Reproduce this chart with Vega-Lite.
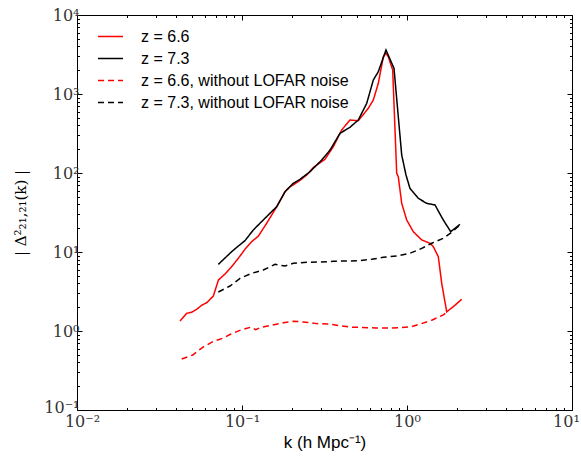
{
  "$schema": "https://vega.github.io/schema/vega-lite/v6.json",
  "width": 495,
  "height": 395,
  "autosize": {"type": "none"},
  "padding": {"left": 77, "top": 15, "right": 9, "bottom": 48},
  "background": "white",
  "config": {
    "view": {"stroke": "black", "strokeWidth": 1},
    "axis": {
      "grid": false,
      "domain": false,
      "tickColor": "black",
      "labelFont": "DejaVu Serif",
      "labelFontSize": 16,
      "labelColor": "#333333",
      "titleFont": "Liberation Sans",
      "titleFontWeight": "normal",
      "titleFontSize": 17,
      "titleColor": "black",
      "labelFlush": false,
      "labelOverlap": false
    }
  },
  "data": {
    "values": [
      {"s": "z = 6.6", "k": 0.0421, "d": 1.34},
      {"s": "z = 6.6", "k": 0.0462, "d": 1.675},
      {"s": "z = 6.6", "k": 0.0496, "d": 1.725},
      {"s": "z = 6.6", "k": 0.0531, "d": 1.88},
      {"s": "z = 6.6", "k": 0.0572, "d": 2.13},
      {"s": "z = 6.6", "k": 0.0611, "d": 2.28},
      {"s": "z = 6.6", "k": 0.067, "d": 2.77},
      {"s": "z = 6.6", "k": 0.072, "d": 4.42},
      {"s": "z = 6.6", "k": 0.0789, "d": 5.27},
      {"s": "z = 6.6", "k": 0.0858, "d": 6.37},
      {"s": "z = 6.6", "k": 0.095, "d": 8.32},
      {"s": "z = 6.6", "k": 0.1042, "d": 10.8},
      {"s": "z = 6.6", "k": 0.1145, "d": 13.5},
      {"s": "z = 6.6", "k": 0.1256, "d": 15.9},
      {"s": "z = 6.6", "k": 0.1411, "d": 23.1},
      {"s": "z = 6.6", "k": 0.1623, "d": 37.4},
      {"s": "z = 6.6", "k": 0.1823, "d": 58.0},
      {"s": "z = 6.6", "k": 0.1954, "d": 67.1},
      {"s": "z = 6.6", "k": 0.2194, "d": 77.6},
      {"s": "z = 6.6", "k": 0.2466, "d": 94.3},
      {"s": "z = 6.6", "k": 0.2704, "d": 117.4},
      {"s": "z = 6.6", "k": 0.3184, "d": 149},
      {"s": "z = 6.6", "k": 0.3575, "d": 215},
      {"s": "z = 6.6", "k": 0.4018, "d": 350},
      {"s": "z = 6.6", "k": 0.4513, "d": 469},
      {"s": "z = 6.6", "k": 0.5068, "d": 459},
      {"s": "z = 6.6", "k": 0.5829, "d": 659},
      {"s": "z = 6.6", "k": 0.6249, "d": 839},
      {"s": "z = 6.6", "k": 0.67, "d": 1366},
      {"s": "z = 6.6", "k": 0.7186, "d": 2965},
      {"s": "z = 6.6", "k": 0.7458, "d": 3274},
      {"s": "z = 6.6", "k": 0.7703, "d": 2965},
      {"s": "z = 6.6", "k": 0.819, "d": 2013},
      {"s": "z = 6.6", "k": 0.8661, "d": 99.1},
      {"s": "z = 6.6", "k": 0.8857, "d": 89.8},
      {"s": "z = 6.6", "k": 0.9288, "d": 41.3},
      {"s": "z = 6.6", "k": 0.9959, "d": 25.4},
      {"s": "z = 6.6", "k": 1.092, "d": 18.1},
      {"s": "z = 6.6", "k": 1.228, "d": 14.2},
      {"s": "z = 6.6", "k": 1.379, "d": 12.9},
      {"s": "z = 6.6", "k": 1.443, "d": 11.7},
      {"s": "z = 6.6", "k": 1.548, "d": 8.72},
      {"s": "z = 6.6", "k": 1.623, "d": 4.02},
      {"s": "z = 6.6", "k": 1.74, "d": 1.75},
      {"s": "z = 6.6", "k": 1.908, "d": 2.03},
      {"s": "z = 6.6", "k": 2.145, "d": 2.52},

      {"s": "z = 7.3", "k": 0.0719, "d": 6.98},
      {"s": "z = 7.3", "k": 0.0866, "d": 10.1},
      {"s": "z = 7.3", "k": 0.095, "d": 11.9},
      {"s": "z = 7.3", "k": 0.1042, "d": 13.9},
      {"s": "z = 7.3", "k": 0.1171, "d": 19.0},
      {"s": "z = 7.3", "k": 0.1285, "d": 23.1},
      {"s": "z = 7.3", "k": 0.1478, "d": 30.9},
      {"s": "z = 7.3", "k": 0.1623, "d": 37.4},
      {"s": "z = 7.3", "k": 0.1823, "d": 58.0},
      {"s": "z = 7.3", "k": 0.2046, "d": 74.1},
      {"s": "z = 7.3", "k": 0.2246, "d": 83.2},
      {"s": "z = 7.3", "k": 0.2583, "d": 103.8},
      {"s": "z = 7.3", "k": 0.3041, "d": 146},
      {"s": "z = 7.3", "k": 0.3415, "d": 195},
      {"s": "z = 7.3", "k": 0.3926, "d": 318},
      {"s": "z = 7.3", "k": 0.4513, "d": 379},
      {"s": "z = 7.3", "k": 0.5068, "d": 469},
      {"s": "z = 7.3", "k": 0.57, "d": 762},
      {"s": "z = 7.3", "k": 0.6249, "d": 1504},
      {"s": "z = 7.3", "k": 0.67, "d": 1915},
      {"s": "z = 7.3", "k": 0.7458, "d": 3606},
      {"s": "z = 7.3", "k": 0.8341, "d": 2115},
      {"s": "z = 7.3", "k": 0.9288, "d": 169},
      {"s": "z = 7.3", "k": 0.986, "d": 94.4},
      {"s": "z = 7.3", "k": 1.042, "d": 64.0},
      {"s": "z = 7.3", "k": 1.171, "d": 47.8},
      {"s": "z = 7.3", "k": 1.316, "d": 41.3},
      {"s": "z = 7.3", "k": 1.478, "d": 39.4},
      {"s": "z = 7.3", "k": 1.66, "d": 25.4},
      {"s": "z = 7.3", "k": 1.84, "d": 18.1},
      {"s": "z = 7.3", "k": 2.095, "d": 22.4},

      {"s": "z = 6.6, without LOFAR noise", "k": 0.0431, "d": 0.442},
      {"s": "z = 6.6, without LOFAR noise", "k": 0.0503, "d": 0.497},
      {"s": "z = 6.6, without LOFAR noise", "k": 0.0578, "d": 0.622},
      {"s": "z = 6.6, without LOFAR noise", "k": 0.0665, "d": 0.733},
      {"s": "z = 6.6, without LOFAR noise", "k": 0.0764, "d": 0.809},
      {"s": "z = 6.6, without LOFAR noise", "k": 0.0858, "d": 0.916},
      {"s": "z = 6.6, without LOFAR noise", "k": 0.0986, "d": 1.03},
      {"s": "z = 6.6, without LOFAR noise", "k": 0.1133, "d": 1.12},
      {"s": "z = 6.6, without LOFAR noise", "k": 0.121, "d": 1.04},
      {"s": "z = 6.6, without LOFAR noise", "k": 0.1298, "d": 1.11},
      {"s": "z = 6.6, without LOFAR noise", "k": 0.1527, "d": 1.19},
      {"s": "z = 6.6, without LOFAR noise", "k": 0.178, "d": 1.27},
      {"s": "z = 6.6, without LOFAR noise", "k": 0.2066, "d": 1.33},
      {"s": "z = 6.6, without LOFAR noise", "k": 0.2433, "d": 1.29},
      {"s": "z = 6.6, without LOFAR noise", "k": 0.2836, "d": 1.24},
      {"s": "z = 6.6, without LOFAR noise", "k": 0.3334, "d": 1.23},
      {"s": "z = 6.6, without LOFAR noise", "k": 0.3963, "d": 1.16},
      {"s": "z = 6.6, without LOFAR noise", "k": 0.456, "d": 1.12},
      {"s": "z = 6.6, without LOFAR noise", "k": 0.536, "d": 1.11},
      {"s": "z = 6.6, without LOFAR noise", "k": 0.6461, "d": 1.09},
      {"s": "z = 6.6, without LOFAR noise", "k": 0.7596, "d": 1.09},
      {"s": "z = 6.6, without LOFAR noise", "k": 0.907, "d": 1.1},
      {"s": "z = 6.6, without LOFAR noise", "k": 1.053, "d": 1.13},
      {"s": "z = 6.6, without LOFAR noise", "k": 1.211, "d": 1.23},
      {"s": "z = 6.6, without LOFAR noise", "k": 1.423, "d": 1.38},
      {"s": "z = 6.6, without LOFAR noise", "k": 1.66, "d": 1.6},
      {"s": "z = 6.6, without LOFAR noise", "k": 1.772, "d": 1.77},

      {"s": "z = 7.3, without LOFAR noise", "k": 0.0719, "d": 3.12},
      {"s": "z = 7.3, without LOFAR noise", "k": 0.0846, "d": 3.71},
      {"s": "z = 7.3, without LOFAR noise", "k": 0.0973, "d": 4.64},
      {"s": "z = 7.3, without LOFAR noise", "k": 0.1145, "d": 5.37},
      {"s": "z = 7.3, without LOFAR noise", "k": 0.1346, "d": 5.92},
      {"s": "z = 7.3, without LOFAR noise", "k": 0.1585, "d": 6.98},
      {"s": "z = 7.3, without LOFAR noise", "k": 0.1823, "d": 6.65},
      {"s": "z = 7.3, without LOFAR noise", "k": 0.2046, "d": 7.19},
      {"s": "z = 7.3, without LOFAR noise", "k": 0.2466, "d": 7.41},
      {"s": "z = 7.3, without LOFAR noise", "k": 0.297, "d": 7.47},
      {"s": "z = 7.3, without LOFAR noise", "k": 0.3575, "d": 7.63},
      {"s": "z = 7.3, without LOFAR noise", "k": 0.431, "d": 7.7},
      {"s": "z = 7.3, without LOFAR noise", "k": 0.5191, "d": 7.76},
      {"s": "z = 7.3, without LOFAR noise", "k": 0.6109, "d": 8.09},
      {"s": "z = 7.3, without LOFAR noise", "k": 0.7186, "d": 8.57},
      {"s": "z = 7.3, without LOFAR noise", "k": 0.8661, "d": 8.9},
      {"s": "z = 7.3, without LOFAR noise", "k": 1.043, "d": 9.63},
      {"s": "z = 7.3, without LOFAR noise", "k": 1.228, "d": 11.1},
      {"s": "z = 7.3, without LOFAR noise", "k": 1.411, "d": 12.9},
      {"s": "z = 7.3, without LOFAR noise", "k": 1.66, "d": 14.9},
      {"s": "z = 7.3, without LOFAR noise", "k": 1.874, "d": 17.9},
      {"s": "z = 7.3, without LOFAR noise", "k": 2.095, "d": 22.0}
    ]
  },
  "layer": [
    {
      "mark": {"type": "line", "strokeWidth": 1.5, "clip": true},
      "encoding": {
        "x": {
          "field": "k", "type": "quantitative",
          "scale": {"type": "log", "domain": [0.01, 10], "nice": false},
          "axis": {
            "orient": "bottom",
            "title": "k (h Mpc⁻¹)",
            "titlePadding": 3,
            "labelPadding": 8,
            "labelOffset": {"condition": [{"test": "datum.value >= 9.99", "value": -6}, {"test": "datum.value <= 0.01001", "value": 5}], "value": 0},
            "values": [0.01,0.02,0.03,0.04,0.05,0.06,0.07,0.08,0.09,0.1,0.2,0.3,0.4,0.5,0.6,0.7,0.8,0.9,1,2,3,4,5,6,7,8,9,10],
            "labelExpr": "abs(log(datum.value)/LN10 - round(log(datum.value)/LN10)) < 0.001 ? '10' + ['⁻²','⁻¹','⁰','¹','²','³','⁴'][round(log(datum.value)/LN10)+2] : ''",
            "tickSize": {"condition": {"test": "abs(log(datum.value)/LN10 - round(log(datum.value)/LN10)) < 0.001", "value": -5}, "value": -2.5}
          }
        },
        "y": {
          "field": "d", "type": "quantitative",
          "scale": {"type": "log", "domain": [0.1, 10000], "nice": false},
          "axis": {
            "orient": "left",
            "title": "| Δ²₂₁,₂₁(k) |",
            "titleFont": "DejaVu Serif",
            "titleFontSize": 15,
            "titlePadding": 15,
            "labelPadding": 3,
            "labelOffset": {"condition": {"test": "datum.value <= 0.1001", "value": -3}, "value": 0},
            "values": [0.1,0.2,0.3,0.4,0.5,0.6,0.7,0.8,0.9,1,2,3,4,5,6,7,8,9,10,20,30,40,50,60,70,80,90,100,200,300,400,500,600,700,800,900,1000,2000,3000,4000,5000,6000,7000,8000,9000,10000],
            "labelExpr": "abs(log(datum.value)/LN10 - round(log(datum.value)/LN10)) < 0.001 ? '10' + ['⁻²','⁻¹','⁰','¹','²','³','⁴'][round(log(datum.value)/LN10)+2] : ''",
            "tickSize": {"condition": {"test": "abs(log(datum.value)/LN10 - round(log(datum.value)/LN10)) < 0.001", "value": -5}, "value": -2.5}
          }
        },
        "color": {
          "field": "s", "type": "nominal",
          "scale": {
            "domain": ["z = 6.6", "z = 7.3", "z = 6.6, without LOFAR noise", "z = 7.3, without LOFAR noise"],
            "range": ["#ff0000", "#000000", "#ff0000", "#000000"]
          },
          "legend": {
            "title": null,
            "orient": "none",
            "legendX": 20,
            "legendY": 8,
            "padding": 0,
            "symbolType": "stroke",
            "symbolSize": 625,
            "symbolStrokeWidth": 1.5,
            "labelFont": "Liberation Sans",
            "labelFontSize": 16,
            "labelColor": "black",
            "labelOffset": 17,
            "rowPadding": 0,
            "labelLimit": 400
          }
        },
        "strokeDash": {
          "field": "s", "type": "nominal",
          "scale": {
            "domain": ["z = 6.6", "z = 7.3", "z = 6.6, without LOFAR noise", "z = 7.3, without LOFAR noise"],
            "range": [[1, 0], [1, 0], [6, 4], [6, 4]]
          },
          "legend": null
        }
      }
    },
    {
      "mark": {"type": "line", "opacity": 0},
      "encoding": {
        "x": {
          "field": "k", "type": "quantitative",
          "scale": {"type": "log", "domain": [0.01, 10], "nice": false},
          "axis": {
            "orient": "top", "title": null, "labels": false,
            "values": [0.01,0.02,0.03,0.04,0.05,0.06,0.07,0.08,0.09,0.1,0.2,0.3,0.4,0.5,0.6,0.7,0.8,0.9,1,2,3,4,5,6,7,8,9,10],
            "tickSize": {"condition": {"test": "abs(log(datum.value)/LN10 - round(log(datum.value)/LN10)) < 0.001", "value": -5}, "value": -2.5}
          }
        },
        "y": {
          "field": "d", "type": "quantitative",
          "scale": {"type": "log", "domain": [0.1, 10000], "nice": false},
          "axis": {
            "orient": "right", "title": null, "labels": false,
            "values": [0.1,0.2,0.3,0.4,0.5,0.6,0.7,0.8,0.9,1,2,3,4,5,6,7,8,9,10,20,30,40,50,60,70,80,90,100,200,300,400,500,600,700,800,900,1000,2000,3000,4000,5000,6000,7000,8000,9000,10000],
            "tickSize": {"condition": {"test": "abs(log(datum.value)/LN10 - round(log(datum.value)/LN10)) < 0.001", "value": -5}, "value": -2.5}
          }
        },
        "detail": {"field": "s", "type": "nominal"}
      }
    }
  ],
  "resolve": {"axis": {"x": "independent", "y": "independent"}}
}
